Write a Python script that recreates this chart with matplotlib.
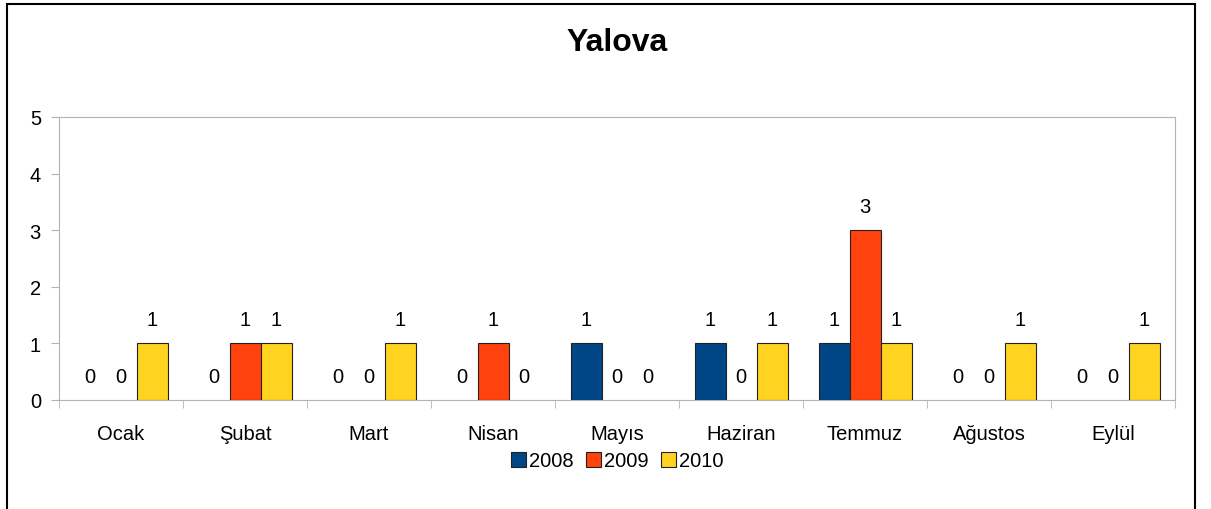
import numpy as np
import matplotlib.pyplot as plt
from matplotlib.patches import Rectangle

plt.rcParams['font.family'] = ['Liberation Sans', 'DejaVu Sans']

# Data
months = ['Ocak', 'Şubat', 'Mart', 'Nisan', 'Mayıs', 'Haziran', 'Temmuz', 'Ağustos', 'Eylül']
years = ['2008', '2009', '2010']
v2008 = [0, 0, 0, 0, 1, 1, 1, 0, 0]
v2009 = [0, 1, 0, 1, 0, 0, 3, 0, 0]
v2010 = [1, 1, 1, 0, 0, 1, 1, 1, 1]
colors = ['#004586', '#FF420E', '#FFD320']

fig = plt.figure(figsize=(12.11, 5.10), dpi=100)
ax = fig.add_axes([59 / 1211, 1 - 401 / 510, (1175 - 59) / 1211, (401 - 118) / 510])

# outer frame of the chart
fig.patches.append(Rectangle((7 / 1211, -0.1), (1195 - 7) / 1211, 1 - 5 / 510 + 0.1,
                             transform=fig.transFigure, fill=False,
                             edgecolor='black', linewidth=1.5))

x = np.arange(len(months))
w = 0.25
for i, (vals, col, yr) in enumerate(zip([v2008, v2009, v2010], colors, years)):
    pos = x + (i - 1) * w
    vals = np.array(vals)
    ax.bar(pos, vals, width=w, color=col, edgecolor=['#222222' if v > 0 else 'none' for v in vals],
           linewidth=0.8, label=yr, zorder=3)
    for p, v in zip(pos, vals):
        ax.text(p, v + 0.42, str(v), ha='center', va='center', fontsize=14.5)

ax.set_xlim(-0.5, len(months) - 0.5)
ax.set_ylim(0, 5)
ax.set_yticks(range(6))
ax.set_xticks(x)
ax.set_xticklabels(months)
ax.set_xticks(np.arange(len(months) + 1) - 0.5, minor=True)
ax.tick_params(axis='x', which='major', length=0, labelsize=14.5, pad=17)
ax.tick_params(axis='x', which='minor', length=6, color='#b3b3b3')
ax.tick_params(axis='y', length=6, color='#b3b3b3', labelsize=14.5, pad=7)
for s in ax.spines.values():
    s.set_color('#b3b3b3')

fig.text((59 + 1175) / 2 / 1211, 1 - 43 / 510, 'Yalova', fontsize=23, fontweight='bold',
         ha='center', va='center')

leg = ax.legend(loc='center', bbox_to_anchor=(0.5, -0.215), ncol=3, frameon=False,
                fontsize=14.5, handlelength=0.75, handleheight=0.75, handletextpad=0.15,
                columnspacing=0.6)
for h in leg.legend_handles:
    h.set_edgecolor('#222222')

plt.savefig('out.png', dpi=100)
